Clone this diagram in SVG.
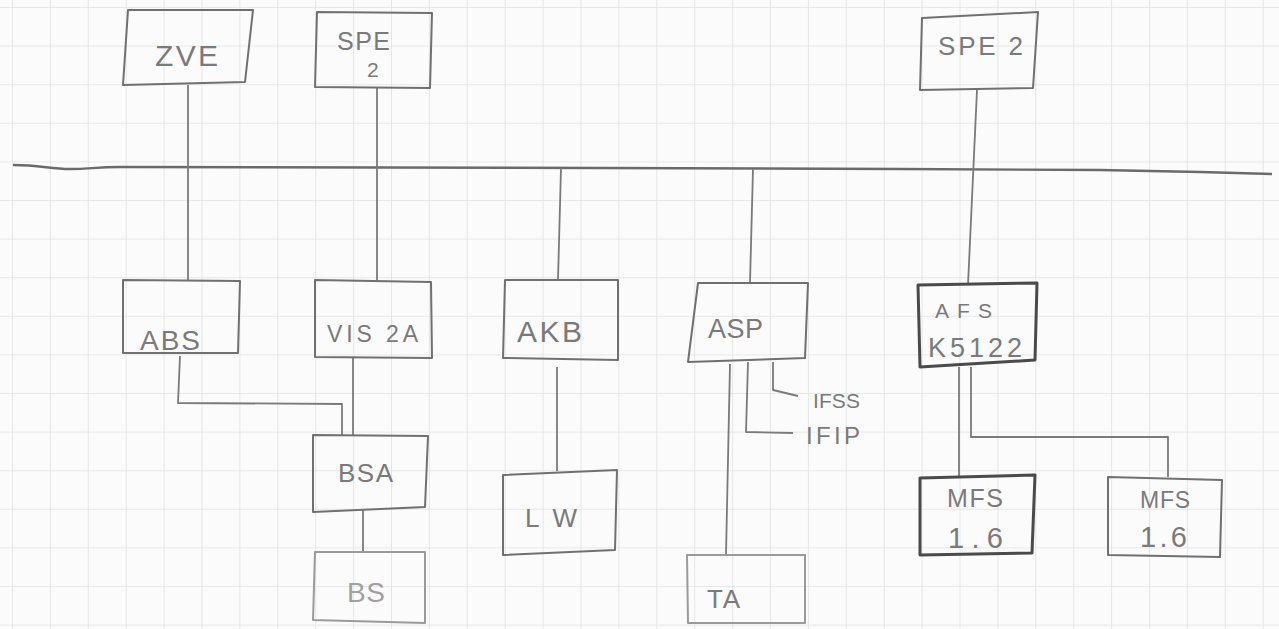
<svg xmlns="http://www.w3.org/2000/svg" width="1279" height="629" viewBox="0 0 1279 629">
<defs>
<pattern id="grid" x="12" y="7" width="37.9" height="38.6" patternUnits="userSpaceOnUse">
<path d="M0 0 V38.6 M0 0 H37.9" fill="none" stroke="#e2e2e2" stroke-width="1.6"/>
</pattern>
<style>
.box{fill:none;stroke:#707070;stroke-width:2;stroke-linejoin:round}
.dark{stroke:#4a4a4a;stroke-width:3}
.light{stroke:#9a9a9a}
.ln{fill:none;stroke:#7a7a7a;stroke-width:1.8;stroke-linejoin:round}
.bus{fill:none;stroke:#6a6a6a;stroke-width:2.4;stroke-linejoin:round}
.t{font-family:"Liberation Sans",Arial,sans-serif;fill:#7a7a7a}
.tl{fill:#a0a0a0}
</style>
</defs>
<rect width="1279" height="629" fill="#fbfbfb"/>
<rect width="1279" height="629" fill="url(#grid)"/>

<g id="connectors">
<path class="bus" d="M13 165 C40 165 50 169 70 169 C90 169 95 167 120 167 L600 168 L900 169 L1100 170 L1200 172 L1272 174"/>
<path class="ln" d="M188 85 L188 280"/>
<path class="ln" d="M377 87 L377 280"/>
<path class="ln" d="M977 90 L968 285"/>
<path class="ln" d="M561 168 L558 280"/>
<path class="ln" d="M753 169 L750 283"/>
<path class="ln" d="M353 358 L353 435"/>
<path class="ln" d="M180 356 L178 403 L342 404 L342 436"/>
<path class="ln" d="M557 367 L557 471"/>
<path class="ln" d="M730 364 L726 555"/>
<path class="ln" d="M748 362 L746 432 L793 433"/>
<path class="ln" d="M773 362 L773 390 L798 396"/>
<path class="ln" d="M959 367 L959 477"/>
<path class="ln" d="M971 367 L971 437 L1168 437 L1168 477"/>
<path class="ln" d="M363 510 L363 552"/>
</g>

<g id="ZVE">
<path class="box" d="M128 10 L253 10 L245 82 L123 85 Z"/>
<text class="t" x="155" y="66" font-size="30" textLength="63" lengthAdjust="spacing">ZVE</text>
</g>
<g id="SPE2a">
<path class="box" d="M317 12 L432 13 L430 88 L315 87 Z"/>
<text class="t" x="337" y="50" font-size="25" textLength="53" lengthAdjust="spacing">SPE</text>
<text class="t" x="367" y="77" font-size="21">2</text>
</g>
<g id="SPE2b">
<path class="box" d="M922 18 L1038 12 L1033 88 L920 90 Z"/>
<text class="t" x="938" y="55" font-size="26" textLength="85" lengthAdjust="spacing">SPE 2</text>
</g>
<g id="ABS">
<path class="box" d="M123 280 L240 281 L238 353 L123 353 Z"/>
<text class="t" x="140" y="350" font-size="28" textLength="60" lengthAdjust="spacing">ABS</text>
</g>
<g id="VIS2A">
<path class="box" d="M315 280 L431 282 L432 358 L315 357 Z"/>
<text class="t" x="327" y="342" font-size="23" textLength="91" lengthAdjust="spacing">VIS 2A</text>
</g>
<g id="AKB">
<path class="box" d="M505 280 L618 280 L618 360 L503 358 Z"/>
<text class="t" x="517" y="342" font-size="30" textLength="65" lengthAdjust="spacing">AKB</text>
</g>
<g id="ASP">
<path class="box" d="M698 283 L808 283 L805 358 L688 362 Z"/>
<text class="t" x="708" y="338" font-size="27" textLength="55" lengthAdjust="spacing">ASP</text>
</g>
<g id="IFSS">
<text class="t" x="813" y="408" font-size="21" textLength="47" lengthAdjust="spacing">IFSS</text>
</g>
<g id="IFIP">
<text class="t" x="806" y="444" font-size="24" textLength="54" lengthAdjust="spacing">IFIP</text>
</g>
<g id="AFS">
<path class="box dark" d="M918 285 L1037 283 L1035 360 L920 367 Z"/>
<text class="t" x="935" y="318" font-size="21" textLength="57" lengthAdjust="spacing">AFS</text>
<text class="t" x="928" y="357" font-size="27" textLength="94" lengthAdjust="spacing">K5122</text>
</g>
<g id="MFS1">
<path class="box dark" d="M920 478 L1035 475 L1032 553 L920 555 Z"/>
<text class="t" x="947" y="507" font-size="25" textLength="56" lengthAdjust="spacing">MFS</text>
<text class="t" x="948" y="548" font-size="29" textLength="55" lengthAdjust="spacing">1.6</text>
</g>
<g id="MFS2">
<path class="box" d="M1108 477 L1222 480 L1220 557 L1108 555 Z"/>
<text class="t" x="1140" y="508" font-size="23" textLength="50" lengthAdjust="spacing">MFS</text>
<text class="t" x="1140" y="547" font-size="29" textLength="47" lengthAdjust="spacing">1.6</text>
</g>
<g id="BSA">
<path class="box" d="M313 435 L428 436 L425 507 L313 512 Z"/>
<text class="t" x="338" y="482" font-size="26" textLength="55" lengthAdjust="spacing">BSA</text>
</g>
<g id="BS">
<path class="box light" d="M315 552 L425 552 L425 623 L313 620 Z"/>
<text class="t tl" x="347" y="602" font-size="28" textLength="38" lengthAdjust="spacing">BS</text>
</g>
<g id="LW">
<path class="box" d="M503 475 L617 470 L615 550 L503 555 Z"/>
<text class="t" x="525" y="527" font-size="26" textLength="52" lengthAdjust="spacing">LW</text>
</g>
<g id="TA">
<path class="box light" d="M687 555 L805 555 L805 623 L688 623 Z"/>
<text class="t" x="707" y="608" font-size="26" textLength="33" lengthAdjust="spacing">TA</text>
</g>
</svg>
